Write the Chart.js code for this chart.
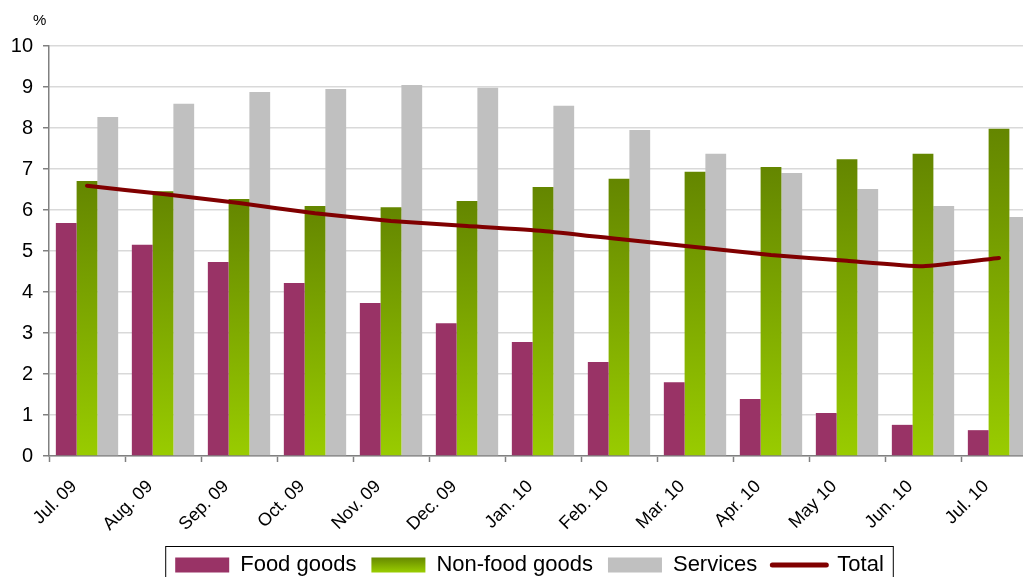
<!DOCTYPE html>
<html>
<head>
<meta charset="utf-8">
<script src="https://cdn.jsdelivr.net/npm/chart.js@4"></script>
<style>
  html, body { margin: 0; padding: 0; background: #fff; overflow: hidden; }
  canvas { display: block; }
</style>
</head>
<body>
<canvas id="c" width="1040" height="586"></canvas>
<script>
const months = ['Jul. 09', 'Aug. 09', 'Sep. 09', 'Oct. 09', 'Nov. 09', 'Dec. 09', 'Jan. 10',
                'Feb. 10', 'Mar. 10', 'Apr. 10', 'May 10', 'Jun. 10', 'Jul. 10'];
const foodGoods = [5.68, 5.15, 4.73, 4.22, 3.73, 3.24, 2.78, 2.29, 1.80, 1.39, 1.05, 0.76, 0.63];
const nonFoodGoods = [6.71, 6.46, 6.27, 6.10, 6.07, 6.22, 6.56, 6.76, 6.93, 7.05, 7.24, 7.37, 7.98];
const services = [8.27, 8.59, 8.88, 8.95, 9.05, 8.98, 8.54, 7.95, 7.37, 6.90, 6.51, 6.10, 5.83];
const total = [6.59, 6.39, 6.17, 5.92, 5.73, 5.61, 5.49, 5.29, 5.10, 4.90, 4.76, 4.63, 4.83];
const yTicks = [0, 1, 2, 3, 4, 5, 6, 7, 8, 9, 10];

const FONT = "'Liberation Sans', Arial, sans-serif";

// green bars fade from olive at the top to lime at the base
function greenFill(context) {
    const chart = context.chart;
    if (!chart.chartArea || context.raw === undefined) return '#80aa00';
    const top = chart.scales.y.getPixelForValue(context.raw);
    const bottom = chart.scales.y.getPixelForValue(0);
    const g = chart.ctx.createLinearGradient(0, top, 0, bottom);
    g.addColorStop(0, '#648600');
    g.addColorStop(1, '#99cc00');
    return g;
}

// nudge the legend right, frame it, and add the "%" unit label
const extras = {
    id: 'extras',
    afterLayout(chart) {
        chart.legend.left += 11;
        chart.legend.right += 11;
    },
    afterDraw(chart) {
        const ctx = chart.ctx;
        const boxes = chart.legend.legendHitBoxes;
        if (boxes && boxes.length) {
            const first = boxes[0], last = boxes[boxes.length - 1];
            ctx.save();
            ctx.strokeStyle = '#000';
            ctx.lineWidth = 1;
            ctx.strokeRect(first.left - 9.5, first.top - 7.5,
                last.left + last.width - first.left + 19, 60);
            ctx.restore();
        }
        ctx.save();
        ctx.fillStyle = '#000';
        ctx.font = '15px ' + FONT;
        ctx.textAlign = 'left';
        ctx.textBaseline = 'middle';
        ctx.fillText('%', 33, 21);
        ctx.restore();
    }
};

const ctx = document.getElementById('c').getContext('2d');
new Chart(ctx, {
    data: {
        labels: months,
        datasets: [
            { type: 'bar', label: 'Food goods', data: foodGoods, backgroundColor: '#993366', order: 1 },
            { type: 'bar', label: 'Non-food goods', data: nonFoodGoods, backgroundColor: greenFill, order: 1 },
            { type: 'bar', label: 'Services', data: services, backgroundColor: '#c0c0c0', order: 1 },
            { type: 'line', label: 'Total', data: total, borderColor: '#800000', backgroundColor: '#800000',
              borderWidth: 4, pointRadius: 0, tension: 0.15, borderCapStyle: 'round', order: -1 }
        ]
    },
    options: {
        responsive: false,
        animation: false,
        layout: { padding: { left: 0, right: 3, top: 46, bottom: 0 } },
        datasets: { bar: { categoryPercentage: 0.82, barPercentage: 1.0 } },
        scales: {
            x: {
                offset: true,
                grid: { display: true, drawOnChartArea: false, drawTicks: true, offset: true,
                        tickLength: 6, tickColor: '#808080', tickWidth: 1.5 },
                border: { color: '#808080', width: 1.5 },
                ticks: { autoSkip: false, maxRotation: 45, minRotation: 45, padding: 14, labelOffset: -13,
                         color: '#000', font: { family: FONT, size: 18 } },
                afterFit: function(scale) { scale.height = 83; }
            },
            y: {
                min: 0,
                max: 10,
                afterBuildTicks: function(scale) { scale.ticks = yTicks.map(v => ({ value: v })); },
                grid: { color: '#d9d9d9', lineWidth: 1.5, tickLength: 6, tickColor: '#808080', tickWidth: 1.5 },
                border: { color: '#808080', width: 1.5 },
                ticks: { padding: 10, color: '#000', font: { family: FONT, size: 20 } },
                afterFit: function(scale) { scale.width = 49; }
            }
        },
        plugins: {
            tooltip: { enabled: false },
            legend: {
                position: 'bottom',
                labels: {
                    usePointStyle: true,
                    pointStyleWidth: 54,
                    boxHeight: 15,
                    padding: 15,
                    color: '#000',
                    font: { family: FONT, size: 22 },
                    generateLabels: function(chart) {
                        const c = chart.ctx;
                        const g = c.createLinearGradient(0, 557, 0, 572);
                        g.addColorStop(0, '#648600');
                        g.addColorStop(1, '#99cc00');
                        const fills = ['#993366', g, '#c0c0c0', '#800000'];
                        return chart.data.datasets.map((ds, i) => ({
                            text: ds.label,
                            fillStyle: fills[i],
                            strokeStyle: i === 3 ? '#800000' : fills[i],
                            lineWidth: i === 3 ? 5 : 0,
                            lineCap: 'round',
                            pointStyle: i === 3 ? 'line' : 'rect',
                            fontColor: '#000',
                            hidden: false,
                            datasetIndex: i
                        }));
                    }
                }
            }
        }
    },
    plugins: [extras]
});
</script>
</body>
</html>
